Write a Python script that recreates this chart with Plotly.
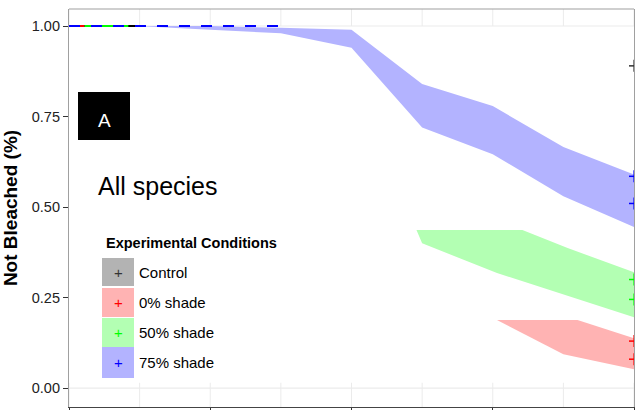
import plotly.graph_objects as go

# Bleaching survival bands by experimental condition (days on x, proportion not bleached on y)
conditions = ["Control", "0% shade", "50% shade", "75% shade"]
line_colors = ["#000000", "#ff0000", "#00ff00", "#0000ff"]
band_colors = ["#b3b3b3", "#ffb3b3", "#b3ffb3", "#b3b3ff"]

# 75% shade confidence band
blue_t = [4.8, 10, 15, 20, 25, 30, 35, 40]
blue_upper = [1.0, 1.0, 0.995, 0.99, 0.84, 0.779, 0.666, 0.59]
blue_lower = [1.0, 0.99, 0.98, 0.94, 0.72, 0.646, 0.53, 0.445]

# 50% shade confidence band
green_t_upper = [24.6, 32.1, 35.3, 40]
green_upper = [0.437, 0.437, 0.387, 0.32]
green_t_lower = [24.6, 25.0, 30.3, 40]
green_lower = [0.437, 0.40, 0.318, 0.196]

# 0% shade confidence band
red_t_upper = [30.3, 36.0, 40]
red_upper = [0.188, 0.188, 0.138]
red_t_lower = [30.3, 35.0, 40]
red_lower = [0.188, 0.094, 0.052]

# survival lines at 1.0 before first bleaching events
control_t = [0, 4.7]
red_line_t = [0, 1.1]
green_line_t = [1.1, 4.2]
blue_line_t = [0, 15]

# censoring marks at end of observation
cens_t = 40
cens_control = [0.89]
cens_red = [0.13, 0.08]
cens_green = [0.30, 0.245]
cens_blue = [0.585, 0.51]

x_ticks = [0, 10, 20, 30, 40]
x_minor = [5, 15, 25, 35]
y_ticks = [0, 0.25, 0.5, 0.75, 1.0]
y_labels = ["0.00", "0.25", "0.50", "0.75", "1.00"]

X_RANGE = [0, 40]
Y_RANGE = [-0.052, 1.047]

W, H = 636, 410
L, R, T, B = 69, 2, 9, 3
FONT = "Liberation Sans, Arial, Helvetica, sans-serif"

# pixel scale of the axes, used for the size of the censor ticks
X_PER_PX = (X_RANGE[1] - X_RANGE[0]) / (W - L - R)
Y_PER_PX = (Y_RANGE[1] - Y_RANGE[0]) / (H - T - B)


def px_x(p):
    return (p - L) / (W - L - R)


def px_y(p):
    return (H - B - p) / (H - T - B)


fig = go.Figure()


def band(tu, up, tl, lo, color):
    fig.add_trace(go.Scatter(
        x=list(tu) + list(tl)[::-1],
        y=list(up) + list(lo)[::-1],
        fill="toself", fillcolor=color, mode="none",
        hoverinfo="skip", showlegend=False))


band(blue_t, blue_upper, blue_t, blue_lower, band_colors[3])
band(green_t_upper, green_upper, green_t_lower, green_lower, band_colors[2])
band(red_t_upper, red_upper, red_t_lower, red_lower, band_colors[1])

for t, c, dash in [(control_t, line_colors[0], "solid"),
                   (red_line_t, line_colors[1], "solid"),
                   (green_line_t, line_colors[2], "solid"),
                   (blue_line_t, line_colors[3], "11px,11px")]:
    fig.add_trace(go.Scatter(x=t, y=[1.0] * len(t), mode="lines",
                             line=dict(color=c, width=2, dash=dash),
                             hoverinfo="skip", showlegend=False))

shapes = []

# grid: only the strips outside the 0-1 region show grid lines
GRID = "#ebebeb"
for xv in x_ticks + x_minor:
    shapes.append(dict(type="line", xref="x", yref="y", x0=xv, x1=xv,
                       y0=1.0, y1=Y_RANGE[1], line=dict(color=GRID, width=1),
                       layer="below"))
    shapes.append(dict(type="line", xref="x", yref="y", x0=xv, x1=xv,
                       y0=Y_RANGE[0], y1=0.015, line=dict(color=GRID, width=1),
                       layer="below"))
for yv in [0.0, 1.0]:
    shapes.append(dict(type="line", xref="paper", yref="y", x0=0, x1=1,
                       y0=yv, y1=yv, line=dict(color=GRID, width=1.2),
                       layer="below"))

# censor ticks, clipped by the right panel edge (half crosses)
for ys, c in [(cens_control, "#333333"), (cens_red, line_colors[1]),
              (cens_green, line_colors[2]), (cens_blue, line_colors[3])]:
    for yv in ys:
        shapes.append(dict(type="line", xref="x", yref="y",
                           x0=cens_t - 5 * X_PER_PX, x1=cens_t, y0=yv, y1=yv,
                           line=dict(color=c, width=1.5)))
        shapes.append(dict(type="line", xref="x", yref="y",
                           x0=cens_t, x1=cens_t,
                           y0=yv - 6 * Y_PER_PX, y1=yv + 6 * Y_PER_PX,
                           line=dict(color=c, width=1.2)))

shapes += [
    # top border
    dict(type="line", xref="paper", yref="paper", x0=0, x1=1, y0=1, y1=1,
         line=dict(color="#a0a0a0", width=1.2)),
    # panel label box
    dict(type="rect", xref="paper", yref="paper",
         x0=px_x(78), x1=px_x(130), y0=px_y(140), y1=px_y(92),
         fillcolor="black", line=dict(width=0)),
]

annotations = [
    dict(text="A", x=px_x(104), y=px_y(120), xref="paper", yref="paper",
         showarrow=False, font=dict(family=FONT, size=19, color="white"),
         xanchor="center", yanchor="middle"),
    dict(text="All species", x=px_x(96), y=px_y(186), xref="paper", yref="paper",
         showarrow=False, font=dict(family=FONT, size=25, color="black"),
         xanchor="left", yanchor="middle"),
    dict(text="<b>Experimental Conditions</b>", x=px_x(104), y=px_y(243),
         xref="paper", yref="paper", showarrow=False,
         font=dict(family=FONT, size=14.5, color="black"),
         xanchor="left", yanchor="middle"),
]

key_rows = [(258, 286), (288, 317), (318, 347), (347, 378)]
plus_colors = ["#333333", "#ff0000", "#00ff00", "#0000ff"]
for (top, bot), name, fc, pc in zip(key_rows, conditions, band_colors, plus_colors):
    shapes.append(dict(type="rect", xref="paper", yref="paper",
                       x0=px_x(102), x1=px_x(134), y0=px_y(bot), y1=px_y(top),
                       fillcolor=fc, line=dict(width=0)))
    cy = (top + bot) / 2
    annotations.append(dict(text="+", x=px_x(118), y=px_y(cy), xref="paper",
                            yref="paper", showarrow=False,
                            font=dict(family=FONT, size=15, color=pc),
                            xanchor="center", yanchor="middle"))
    annotations.append(dict(text=name, x=px_x(137), y=px_y(cy), xref="paper",
                            yref="paper", showarrow=False,
                            font=dict(family=FONT, size=15, color="black"),
                            xanchor="left", yanchor="middle"))

fig.update_layout(
    template="none",
    width=W, height=H,
    margin=dict(l=L, r=R, t=T, b=B, pad=0),
    paper_bgcolor="white", plot_bgcolor="white",
    showlegend=False,
    shapes=shapes, annotations=annotations,
    xaxis=dict(range=X_RANGE, tickvals=x_ticks, showticklabels=False,
               ticks="outside", ticklen=5, tickcolor="#333333", tickwidth=1.2,
               showgrid=False,
               showline=True, linecolor="#444444", linewidth=1.2,
               zeroline=False, automargin=False),
    yaxis=dict(range=Y_RANGE, tickvals=y_ticks, ticktext=y_labels,
               ticks="outside", ticklen=5, tickcolor="#333333", tickwidth=1.2,
               tickfont=dict(family=FONT, size=14.5, color="#222222"),
               showgrid=False,
               showline=True, mirror=True, linecolor="#a0a0a0", linewidth=1.2,
               zeroline=False, automargin=False,
               title=dict(text="<b>Not Bleached (%)</b>", standoff=14,
                          font=dict(family=FONT, size=19, color="black"))),
)

fig.write_html("out.html")
